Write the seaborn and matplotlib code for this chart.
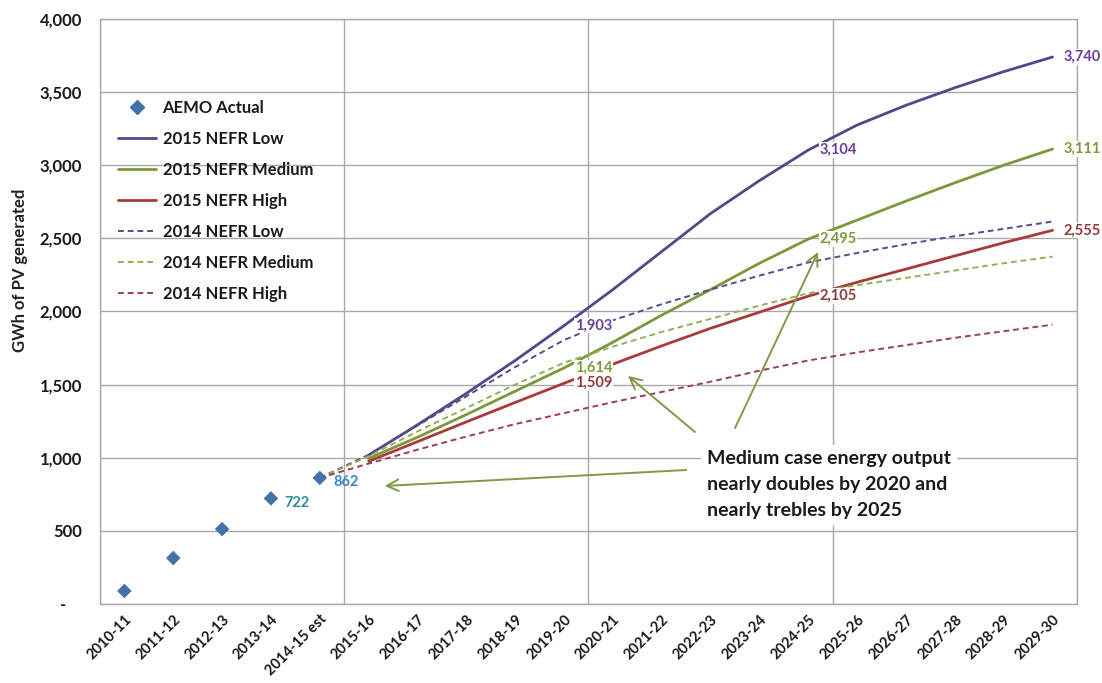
import numpy as np
import pandas as pd
import matplotlib
matplotlib.use("Agg")
import matplotlib.pyplot as plt
import seaborn as sns
from matplotlib.lines import Line2D
from matplotlib.ticker import FuncFormatter, FixedLocator

# ---------------------------------------------------------------- data
years = ["2010-11", "2011-12", "2012-13", "2013-14", "2014-15 est",
         "2015-16", "2016-17", "2017-18", "2018-19", "2019-20",
         "2020-21", "2021-22", "2022-23", "2023-24", "2024-25",
         "2025-26", "2026-27", "2027-28", "2028-29", "2029-30"]

actual_years = years[:5]
aemo_actual = [89, 314, 512, 722, 862]

nefr2015_years = years[5:]
nefr2015_low = [1018, 1225, 1440, 1665, 1903, 2150, 2410, 2670, 2895, 3104,
                3275, 3410, 3530, 3640, 3740]
nefr2015_medium = [995, 1140, 1295, 1455, 1614, 1790, 1975, 2150, 2330, 2495,
                   2625, 2755, 2880, 3000, 3111]
nefr2015_high = [975, 1110, 1245, 1378, 1509, 1640, 1765, 1885, 1995, 2105,
                 2200, 2290, 2380, 2470, 2555]

nefr2014_years = years[4:]
nefr2014_low = [862, 1020, 1220, 1420, 1620, 1805, 1940, 2050, 2150, 2245,
                2335, 2400, 2460, 2515, 2565, 2615]
nefr2014_medium = [862, 1010, 1180, 1340, 1500, 1650, 1760, 1860, 1950, 2040,
                   2125, 2180, 2230, 2280, 2330, 2375]
nefr2014_high = [862, 960, 1055, 1145, 1230, 1305, 1380, 1450, 1520, 1595,
                 1665, 1720, 1770, 1820, 1865, 1910]

labelled_actual_years = ["2013-14", "2014-15 est"]
labelled_proj_years = ["2019-20", "2024-25", "2029-30"]

note = "Medium case energy output\nnearly doubles by 2020 and\nnearly trebles by 2025"

# ---------------------------------------------------------------- styles
series_style = {
    "2015 NEFR Low":    dict(color="#54478A", dash="", lw=2.0, label_color="#6A3F9E"),
    "2015 NEFR Medium": dict(color="#7B983A", dash="", lw=2.0, label_color="#7D9A3E"),
    "2015 NEFR High":   dict(color="#A93A3A", dash="", lw=2.0, label_color="#8F3A3C"),
    "2014 NEFR Low":    dict(color="#5A4A8E", dash=(3, 2), lw=1.4, label_color=None),
    "2014 NEFR Medium": dict(color="#93B054", dash=(3, 2), lw=1.4, label_color=None),
    "2014 NEFR High":   dict(color="#9C3F55", dash=(3, 2), lw=1.4, label_color=None),
}
actual_color = "#4471A6"
grid_color = "#A9A9A9"

frames = []
for name, yrs, vals in [
    ("2015 NEFR Low", nefr2015_years, nefr2015_low),
    ("2015 NEFR Medium", nefr2015_years, nefr2015_medium),
    ("2015 NEFR High", nefr2015_years, nefr2015_high),
    ("2014 NEFR Low", nefr2014_years, nefr2014_low),
    ("2014 NEFR Medium", nefr2014_years, nefr2014_medium),
    ("2014 NEFR High", nefr2014_years, nefr2014_high),
]:
    frames.append(pd.DataFrame({"series": name, "year": yrs,
                                "pos": [years.index(y) for y in yrs],
                                "gwh": vals}))
proj = pd.concat(frames, ignore_index=True)
act = pd.DataFrame({"year": actual_years,
                    "pos": [years.index(y) for y in actual_years],
                    "gwh": aemo_actual})

# ---------------------------------------------------------------- figure
sns.set_theme(style="white")
plt.rcParams["font.family"] = ["Lato", "DejaVu Sans"]

fig = plt.figure(figsize=(11.02, 6.83), dpi=100)
ax = fig.add_axes([0.0907, 0.1157, 0.8866, 0.8565])

order = list(series_style.keys())
sns.lineplot(data=proj, x="pos", y="gwh", hue="series", style="series",
             hue_order=order, style_order=order,
             palette={k: v["color"] for k, v in series_style.items()},
             dashes={k: v["dash"] for k, v in series_style.items()},
             size="series", sizes={k: v["lw"] for k, v in series_style.items()},
             size_order=order, legend=False, ax=ax, zorder=3)

sns.scatterplot(data=act, x="pos", y="gwh", marker="D", s=55,
                color=actual_color, edgecolor="none", legend=False,
                ax=ax, zorder=4)

# axes ranges, grid and ticks
ax.set_xlim(-0.5, len(years) - 0.5)
ax.set_ylim(0, 4000)
ax.set_xlabel("")
ax.set_ylabel("GWh of PV generated", fontsize=12, fontweight="bold",
              color="#222222")
ax.yaxis.set_label_coords(-0.074, 0.57)

ax.set_yticks(np.arange(0, 4001, 500))
ax.yaxis.set_major_formatter(FuncFormatter(
    lambda v, p: "-    " if v == 0 else f"{v:,.0f}"))
ax.set_xticks(range(len(years)))
ax.set_xticklabels(years, rotation=45, ha="right", va="top",
                   rotation_mode="anchor")
ax.xaxis.set_minor_locator(FixedLocator(np.arange(-0.5, len(years), 5)))

ax.tick_params(axis="x", which="major", length=0, pad=6,
               labelsize=10.5, labelcolor="#1a1a1a")
ax.tick_params(axis="x", which="minor", length=5, width=1, color=grid_color,
               direction="out")
ax.tick_params(axis="y", which="major", length=5, width=1, color=grid_color,
               direction="out", pad=8, labelsize=12, labelcolor="#1a1a1a")
for lab in ax.get_xticklabels() + ax.get_yticklabels():
    lab.set_fontweight("bold")

ax.grid(False)
ax.yaxis.grid(True, which="major", color=grid_color, lw=1)
ax.xaxis.grid(True, which="minor", color=grid_color, lw=1)
for side in ["left", "bottom", "right", "top"]:
    ax.spines[side].set_color(grid_color)
    ax.spines[side].set_linewidth(1)

# ---------------------------------------------------------------- value labels
lab_box = dict(boxstyle="square,pad=0.05", fc="white", ec="none")
series_vals = {"2015 NEFR Low": nefr2015_low,
               "2015 NEFR Medium": nefr2015_medium,
               "2015 NEFR High": nefr2015_high}
for name, vals in series_vals.items():
    for yr in labelled_proj_years:
        v = vals[nefr2015_years.index(yr)]
        ax.annotate(f"{v:,}", (years.index(yr), v), xytext=(8, 0),
                    textcoords="offset points", ha="left", va="center",
                    fontsize=10.5, fontweight="bold",
                    color=series_style[name]["label_color"],
                    bbox=lab_box, zorder=5)

for yr, col in zip(labelled_actual_years, ["#2F8A9C", "#3487BF"]):
    v = aemo_actual[actual_years.index(yr)]
    ax.annotate(f"{v:,}", (years.index(yr), v), xytext=(10, -3),
                textcoords="offset points", ha="left", va="center",
                fontsize=10.5, fontweight="bold", color=col, zorder=5)

# ---------------------------------------------------------------- annotation
ax.text(11.93, 1050, note, ha="left", va="top", fontsize=14,
        fontweight="bold", color="#1a1a1a", linespacing=1.62,
        bbox=dict(boxstyle="square,pad=0.3", fc="white", ec="none"), zorder=6)

arrow_col = "#7F9A48"
for tail, head in [((11.68, 1176), (10.31, 1559)),
                   ((12.50, 1203), (14.20, 2407)),
                   ((11.50, 916), (5.33, 807))]:
    ax.annotate("", xy=head, xytext=tail,
                arrowprops=dict(arrowstyle="->,head_length=0.7,head_width=0.35",
                                color=arrow_col, lw=1.4,
                                shrinkA=0, shrinkB=0), zorder=6)

# ---------------------------------------------------------------- legend
handles = [Line2D([], [], ls="none", marker="D", ms=7, color=actual_color,
                  label="AEMO Actual")]
for name, st in series_style.items():
    kw = dict(color=st["color"], lw=st["lw"], label=name)
    if st["dash"]:
        kw["dashes"] = st["dash"]
    handles.append(Line2D([], [], **kw))
leg = ax.legend(handles=handles, loc="upper left",
                bbox_to_anchor=(0.018, 0.862), frameon=False,
                borderaxespad=0, borderpad=0, handlelength=2.3,
                handletextpad=0.4, labelspacing=0.9,
                prop=dict(size=12, weight="bold"))
for t in leg.get_texts():
    t.set_color("#1a1a1a")

fig.savefig("out.png", dpi=100, facecolor="white")
